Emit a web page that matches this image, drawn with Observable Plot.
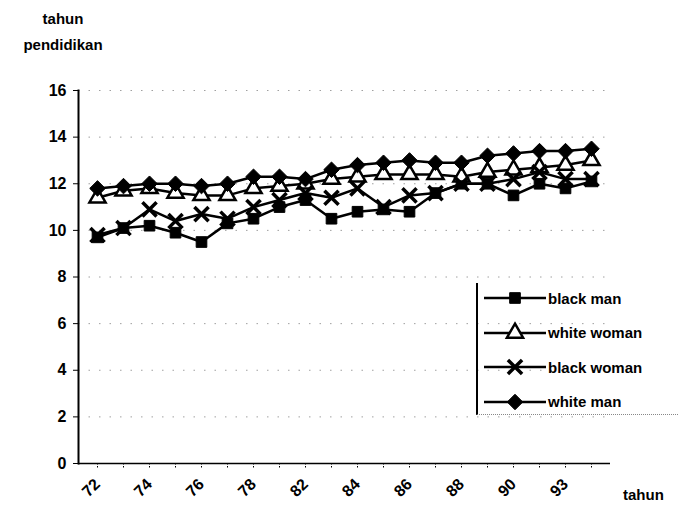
<!DOCTYPE html>
<html><head><meta charset="utf-8">
<script src="https://cdn.jsdelivr.net/npm/d3@7"></script>
<script src="https://cdn.jsdelivr.net/npm/@observablehq/plot@0.6"></script>
<style>
body{margin:0;background:#fff;font-family:"Liberation Sans",Arial,sans-serif;}
#wrap{position:relative;width:678px;height:513px;}
#title{position:absolute;left:8px;top:6px;width:110px;text-align:center;font-size:15px;font-weight:bold;line-height:26px;}
#xlab{position:absolute;left:623px;top:486px;font-size:15px;font-weight:bold;}
#legend{position:absolute;left:476px;top:283px;width:200px;height:131px;border-left:2px solid #000;border-bottom:1px dotted #888;}
.row{position:absolute;left:4px;height:26px;display:flex;align-items:center;font-size:15px;font-weight:bold;}
</style></head>
<body><div id="wrap"><div id="chart"></div>
<div id="title">tahun<br>pendidikan</div>
<div id="xlab">tahun</div>
<div id="legend"></div></div>
<script>
const years = ["72","73","74","75","76","77","78","80","82","83","84","85","86","87","88","89","90","91","93","94"];
const tickLabels = ["72","74","76","78","82","84","86","88","90","93"];
const blackMan   = [9.7,10.1,10.2,9.9,9.5,10.3,10.5,11.0,11.3,10.5,10.8,10.9,10.8,11.6,12.0,12.0,11.5,12.0,11.8,12.1];
const whiteWoman = [11.4,11.7,11.8,11.6,11.5,11.5,11.8,11.9,12.0,12.2,12.3,12.4,12.4,12.4,12.3,12.5,12.6,12.7,12.8,13.0];
const blackWoman = [9.8,10.1,10.9,10.4,10.7,10.5,11.0,11.3,11.6,11.4,11.8,11.0,11.5,11.6,12.0,12.0,12.2,12.5,12.2,12.2];
const whiteMan   = [11.8,11.9,12.0,12.0,11.9,12.0,12.3,12.3,12.2,12.6,12.8,12.9,13.0,12.9,12.9,13.2,13.3,13.4,13.4,13.5];
const seriesNames = ["black man","white woman","black woman","white man"];
const seriesVals = [blackMan, whiteWoman, blackWoman, whiteMan];
const yTicks = [0,2,4,6,8,10,12,14,16];

const styles = {
  "black man":   {symbol:"square", fill:"#000", stroke:"#000", r:6, sw:1},
  "white woman": {symbol:"triangle", fill:"#fff", stroke:"#000", r:6, sw:2.5},
  "black woman": {symbol:"times", fill:"none", stroke:"#000", r:6.5, sw:3.5},
  "white man":   {symbol:"diamond2", fill:"#000", stroke:"#000", r:7, sw:1}
};

const data = [];
seriesNames.forEach((s,i)=>seriesVals[i].forEach((v,j)=>data.push({series:s, year:years[j], value:v})));

const dotMarks = seriesNames.map(s => Plot.dot(data.filter(d=>d.series===s), {
  x:"year", y:"value", symbol:()=>styles[s].symbol, r:styles[s].r,
  fill:styles[s].fill, stroke:styles[s].stroke, strokeWidth:styles[s].sw
}));

const labelMap = {};
years.forEach((y,i)=>{ if(i%2===0) labelMap[y] = tickLabels[i/2]; });

const chart = Plot.plot({
  width:678, height:513,
  marginLeft:78, marginRight:68, marginTop:90, marginBottom:50,
  style:{fontFamily:"Liberation Sans, Arial, sans-serif", fontSize:"15px", fontWeight:"bold", background:"#fff"},
  x:{type:"point", domain:years, padding:0.55},
  y:{domain:[0,16]},
  symbol:{type:"identity"},
  marks:[
    Plot.gridY(yTicks, {stroke:"#777", strokeOpacity:0.7, strokeDasharray:"1.5,9"}),
    Plot.axisY(yTicks, {tickSize:5, tickPadding:7, label:null, fontSize:16}),
    Plot.axisX({tickSize:5, tickRotate:-45, tickPadding:13, label:null, fontSize:16,
      tickFormat:d=>labelMap[d] ?? "", strokeDasharray:"1.5,1.5"}),
    Plot.ruleY([0], {stroke:"#000", strokeWidth:1.5}),
    Plot.frame({anchor:"left", stroke:"#000", strokeWidth:2}),
    ...seriesNames.map(s => Plot.line(data.filter(d=>d.series===s), {x:"year", y:"value", stroke:"#000", strokeWidth:2.5})),
    ...dotMarks
  ]
});
document.getElementById("chart").appendChild(chart);

// legend
const legend = d3.select("#legend");
seriesNames.forEach((s,i)=>{
  const row = legend.append("div").attr("class","row").style("top", (2 + i*34.5) + "px");
  const svg = row.append("svg").attr("width",66).attr("height",26);
  svg.append("line").attr("x1",2).attr("x2",64).attr("y1",13).attr("y2",13).attr("stroke","#000").attr("stroke-width",2.5);
  const st = styles[s];
  const symMap = {square:d3.symbolSquare, triangle:d3.symbolTriangle, times:d3.symbolTimes, diamond2:d3.symbolDiamond2};
  svg.append("path").attr("d", d3.symbol(symMap[st.symbol], Math.PI*st.r*st.r)())
    .attr("transform","translate(33,13)").attr("fill",st.fill).attr("stroke",st.stroke).attr("stroke-width",st.sw);
  row.append("span").text(s);
});
</script></body></html>
